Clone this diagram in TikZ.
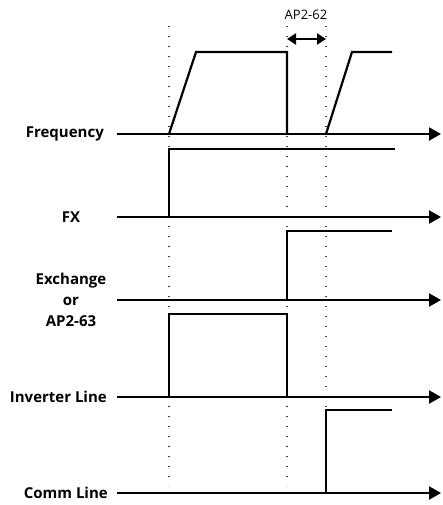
\documentclass[tikz,border=0pt]{standalone}
\usepackage{fontspec}
\setmainfont{Open Sans}
\usetikzlibrary{arrows.meta}
\begin{document}
\begin{tikzpicture}[x=1pt,y=-1pt,
  axis/.style={line width=2.2pt,-{Triangle[length=12pt,width=13pt]}},
  sig/.style={line width=2.2pt,line join=miter},
  guide/.style={line width=1.4pt,dash pattern=on 1.2pt off 8.8pt,black!75},
  lab/.style={font=\bfseries\fontsize{15}{21}\selectfont,inner sep=0pt},
  dim/.style={line width=2.2pt,{Triangle[length=9pt,width=11pt]}-{Triangle[length=9pt,width=11pt]}}]
\useasboundingbox (0,0) rectangle (443,505);
% guide coordinates
\coordinate (g1t) at (169,26); \coordinate (g1b) at (169,486);
\coordinate (g2t) at (287,26); \coordinate (g2b) at (287,486);
\coordinate (g3t) at (326,26); \coordinate (g3b) at (326,408);
\draw[guide] (g1t) -- (g1b);
\draw[guide] (g2t) -- (g2b);
\draw[guide] (g3t) -- (g3b);
% labels
\node[lab,anchor=east] (lf) at (104,134) {Frequency};
\node[lab] (lfx) at (71,217) {FX};
\node[lab,align=center] (lex) at (71,300) {Exchange\\or\\AP2-63};
\node[lab,anchor=east] (linv) at (107,397) {Inverter Line};
\node[lab,anchor=east] (lcomm) at (108,493) {Comm Line};
% axes
\coordinate (af) at (441,134);
\coordinate (afx) at (441,217);
\coordinate (aex) at (441,300);
\coordinate (ainv) at (441,397);
\coordinate (acomm) at (441,493);
\draw[axis] (117,134) -- (af);
\draw[axis] (117,217) -- (afx);
\draw[axis] (117,300) -- (aex);
\draw[axis] (117,397) -- (ainv);
\draw[axis] (117,493) -- (acomm);
% signals
\draw[sig] (169,134) -- (196,52) -- (287,52) -- (287,134);
\draw[sig] (326,134) -- (352,52) -- (392,52);
\draw[sig] (169,217) -- (169,149) -- (395,149);
\draw[sig] (287,300) -- (287,231) -- (392,231);
\draw[sig] (169,397) -- (169,314) -- (287,314) -- (287,397);
\draw[sig] (326,493) -- (326,410) -- (392,410);
% AP2-62 interval
\coordinate (d1) at (287,39);
\coordinate (d2) at (326,39);
\draw[dim] (d1) -- (d2);
\node[font=\fontsize{13}{14}\selectfont,inner sep=0pt] (lap) at (306,15) {AP2-62};
\end{tikzpicture}
\end{document}
